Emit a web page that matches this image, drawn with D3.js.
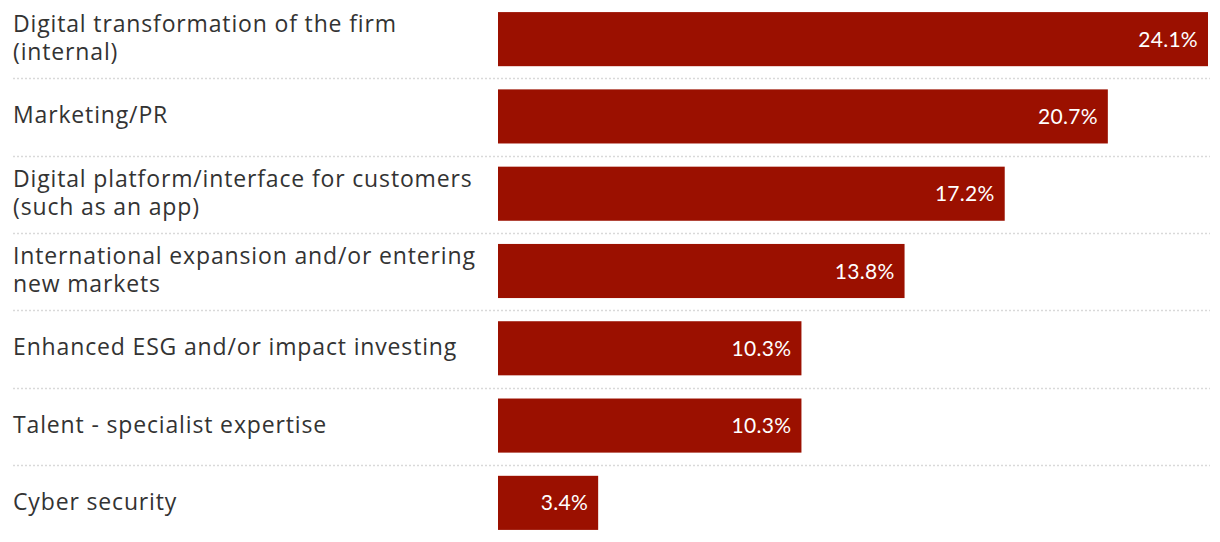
<!DOCTYPE html>
<html><head><meta charset="utf-8">
<script src="https://cdn.jsdelivr.net/npm/d3@7"></script>
<style>body{margin:0;background:#fff;} text{font-family:"Open Sans",Lato,sans-serif;}</style>
</head><body><svg id="c" width="1220" height="542"></svg>
<script>
const categories = [
  ["Digital transformation of the firm", "(internal)"],
  ["Marketing/PR"],
  ["Digital platform/interface for customers", "(such as an app)"],
  ["International expansion and/or entering", "new markets"],
  ["Enhanced ESG and/or impact investing"],
  ["Talent - specialist expertise"],
  ["Cyber security"]
];
const values = [24.1, 20.7, 17.2, 13.8, 10.3, 10.3, 3.4];
const valueLabels = ["24.1%", "20.7%", "17.2%", "13.8%", "10.3%", "10.3%", "3.4%"];

const svg = d3.select("#c");
const idx = d3.range(values.length);
const x = d3.scaleLinear().domain([0, 24.1]).range([498, 1208]);
const y = d3.scaleBand().domain(idx).range([0.5, 541.5]).paddingInner(0.3).paddingOuter(0.15);

// separators
svg.selectAll("line.sep").data(idx.slice(1)).join("line")
  .attr("x1", 13).attr("x2", 1210)
  .attr("y1", d => Math.round(y(d) - 11) + 0.5)
  .attr("y2", d => Math.round(y(d) - 11) + 0.5)
  .attr("stroke", "#d9d9d9").attr("stroke-width", 1.5).attr("stroke-dasharray", "2,2");

svg.selectAll("rect.bar").data(idx).join("rect")
  .attr("x", x(0)).attr("y", d => y(d)).attr("width", d => x(values[d]) - x(0))
  .attr("height", y.bandwidth()).attr("fill", "#9b1000");

svg.selectAll("text.val").data(idx).join("text")
  .attr("x", d => x(values[d]) - 10).attr("y", d => y(d) + y.bandwidth()/2 + 7.5)
  .attr("text-anchor", "end").attr("fill", "#fff").attr("font-size", 21)
  .style("font-family", "Lato, sans-serif").attr("letter-spacing", 0.3)
  .text(d => valueLabels[d]);

const lh = 28;
const labRows = svg.selectAll("g.lab").data(idx).join("g");
labRows.each(function(d) {
  const lines = categories[d];
  const cy = y(d) + y.bandwidth()/2;
  const g = d3.select(this);
  lines.forEach((s, i) => {
    g.append("text").attr("x", 13)
      .attr("y", cy + 7 + (i - (lines.length-1)/2) * lh)
      .attr("fill", "#333").attr("font-size", 23).attr("letter-spacing", 0.85)
      .text(s);
  });
});
</script></body></html>
